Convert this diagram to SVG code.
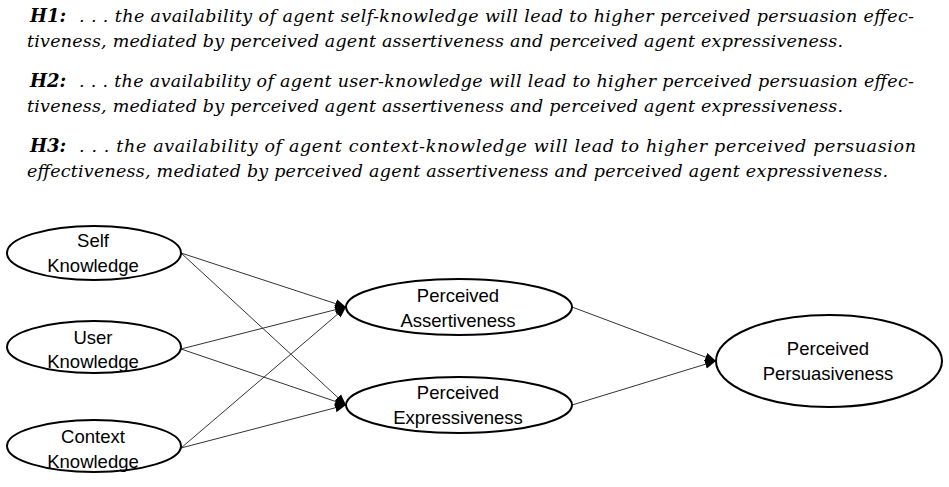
<svg xmlns="http://www.w3.org/2000/svg" width="949" height="487" viewBox="0 0 949 487">
<defs>
<style>
.hb{font-family:"DejaVu Serif","Liberation Serif",serif;font-style:italic;font-weight:bold;font-size:18px;fill:#000}
.hi{font-family:"DejaVu Serif","Liberation Serif",serif;font-style:italic;font-size:17.5px;fill:#000}
.node ellipse{fill:#fff;stroke:#000;stroke-width:2}
.node text{font-family:"Liberation Sans",Arial,sans-serif;font-size:18.5px;fill:#000;text-anchor:middle}
.edge{stroke:#333;stroke-width:1;fill:none;marker-end:url(#arr)}
</style>
<marker id="arr" markerUnits="userSpaceOnUse" markerWidth="12" markerHeight="12" viewBox="0 0 12 12" refX="11" refY="6" orient="auto">
<path d="M0,1.5 L11,6 L0,10.5 Z" fill="#000"/>
</marker>
</defs>
<g id="hypotheses">
<text class="hb" x="30" y="22">H1:</text>
<text class="hi" x="79" y="22" textLength="835" lengthAdjust="spacing">. . . the availability of agent self-knowledge will lead to higher perceived persuasion effec-</text>
<text class="hi" x="27" y="47" textLength="816" lengthAdjust="spacing">tiveness, mediated by perceived agent assertiveness and perceived agent expressiveness.</text>
<text class="hb" x="30" y="87">H2:</text>
<text class="hi" x="79" y="87" textLength="835" lengthAdjust="spacing">. . . the availability of agent user-knowledge will lead to higher perceived persuasion effec-</text>
<text class="hi" x="27" y="112" textLength="816" lengthAdjust="spacing">tiveness, mediated by perceived agent assertiveness and perceived agent expressiveness.</text>
<text class="hb" x="30" y="152">H3:</text>
<text class="hi" x="79" y="152" textLength="837" lengthAdjust="spacing">. . . the availability of agent context-knowledge will lead to higher perceived persuasion</text>
<text class="hi" x="27" y="177" textLength="861" lengthAdjust="spacing">effectiveness, mediated by perceived agent assertiveness and perceived agent expressiveness.</text>
</g>
<g id="connectors">
<line class="edge" x1="181" y1="253" x2="346" y2="307"/>
<line class="edge" x1="181" y1="253" x2="346" y2="405"/>
<line class="edge" x1="181" y1="349" x2="346" y2="307"/>
<line class="edge" x1="181" y1="349" x2="346" y2="405"/>
<line class="edge" x1="181" y1="448" x2="346" y2="307"/>
<line class="edge" x1="181" y1="448" x2="346" y2="405"/>
<line class="edge" x1="572" y1="307" x2="716" y2="361"/>
<line class="edge" x1="572" y1="405" x2="716" y2="361"/>
</g>
<g id="self" class="node">
<ellipse cx="94" cy="253" rx="87" ry="27"/>
<text x="93" y="247">Self</text>
<text x="93" y="272">Knowledge</text>
</g>
<g id="user" class="node">
<ellipse cx="94" cy="347" rx="87" ry="26"/>
<text x="93" y="344">User</text>
<text x="93" y="368">Knowledge</text>
</g>
<g id="context" class="node">
<ellipse cx="94" cy="446" rx="87" ry="26"/>
<text x="93" y="443">Context</text>
<text x="93" y="468">Knowledge</text>
</g>
<g id="assertiveness" class="node">
<ellipse cx="459" cy="307" rx="113" ry="28"/>
<text x="458" y="302">Perceived</text>
<text x="458" y="327">Assertiveness</text>
</g>
<g id="expressiveness" class="node">
<ellipse cx="459" cy="405" rx="113" ry="28"/>
<text x="458" y="399">Perceived</text>
<text x="458" y="424">Expressiveness</text>
</g>
<g id="persuasiveness" class="node">
<ellipse cx="829" cy="361" rx="113" ry="46"/>
<text x="828" y="355">Perceived</text>
<text x="828" y="380">Persuasiveness</text>
</g>
</svg>
